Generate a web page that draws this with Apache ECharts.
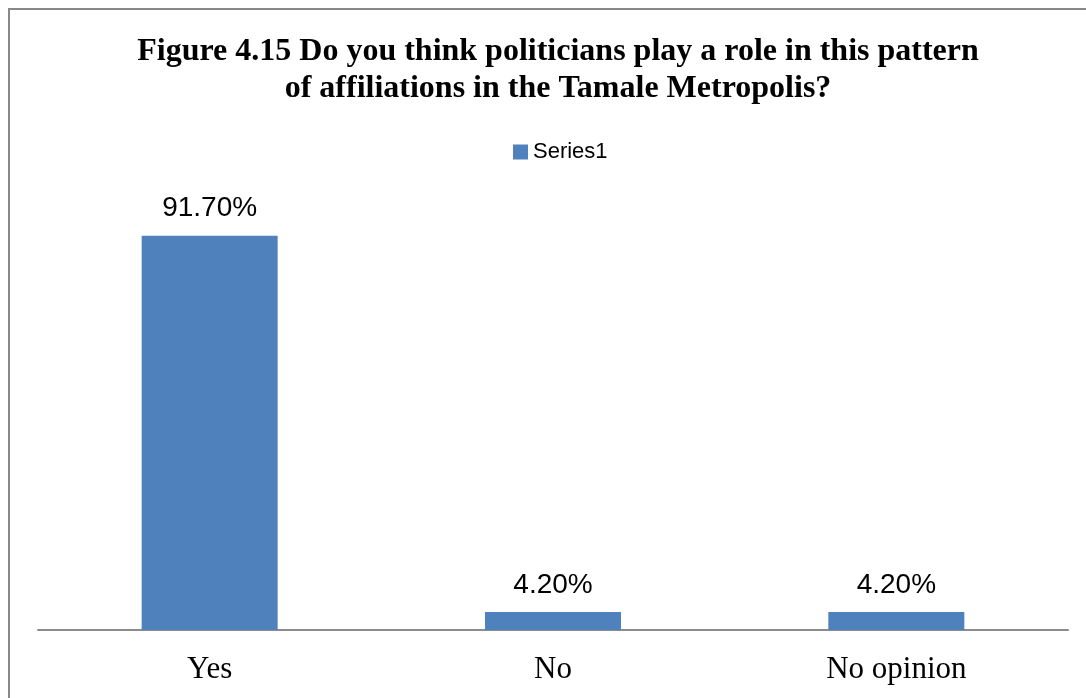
<!DOCTYPE html>
<html>
<head>
<meta charset="utf-8">
<script src="https://cdn.jsdelivr.net/npm/echarts@6/dist/echarts.min.js"></script>
<style>
  html, body { margin: 0; padding: 0; background: #fff; }
  #chart { width: 1086px; height: 698px; }
</style>
</head>
<body>
<div id="chart"></div>
<script>
// data
const categories = ['Yes', 'No', 'No opinion'];
const values = [91.7, 4.2, 4.2];
const seriesName = 'Series1';
const titleText = 'Figure 4.15 Do you think politicians play a role in this pattern\nof affiliations in the Tamale Metropolis?';

const chart = echarts.init(document.getElementById('chart'));

chart.setOption({
    backgroundColor: '#ffffff',
    animation: false,
    title: {
        text: titleText,
        left: 553,
        top: 28,
        textAlign: 'center',
        textStyle: {
            fontFamily: 'Liberation Serif',
            fontWeight: 'bold',
            fontSize: 32,
            lineHeight: 37,
            color: '#000'
        }
    },
    legend: {
        data: [seriesName],
        left: 508,
        top: 136,
        itemWidth: 15,
        itemHeight: 15,
        itemGap: 10,
        icon: 'rect',
        textStyle: {
            fontFamily: 'Liberation Sans',
            fontSize: 22,
            lineHeight: 21,
            color: '#000'
        }
    },
    grid: {
        left: 38,
        right: 18,
        top: 200,
        bottom: 68
    },
    xAxis: {
        type: 'category',
        data: categories,
        axisLine: { lineStyle: { color: '#8c8c8c', width: 2 } },
        axisTick: { show: false },
        axisLabel: {
            fontFamily: 'Liberation Serif',
            fontSize: 31,
            color: '#000',
            margin: 24
        }
    },
    yAxis: {
        type: 'value',
        min: 0,
        max: 100,
        show: false
    },
    series: [{
        name: seriesName,
        type: 'bar',
        data: values,
        barWidth: 136,
        itemStyle: { color: '#4f81bd' },
        label: {
            show: true,
            position: 'top',
            distance: 13,
            formatter: p => p.value.toFixed(2) + '%',
            fontFamily: 'Liberation Sans',
            fontSize: 28,
            color: '#000'
        }
    }],
    graphic: [{
        type: 'rect',
        shape: { x: 9, y: 9, width: 1200, height: 1000 },
        style: { fill: 'none', stroke: '#888888', lineWidth: 2 },
        silent: true
    }]
});
</script>
</body>
</html>
